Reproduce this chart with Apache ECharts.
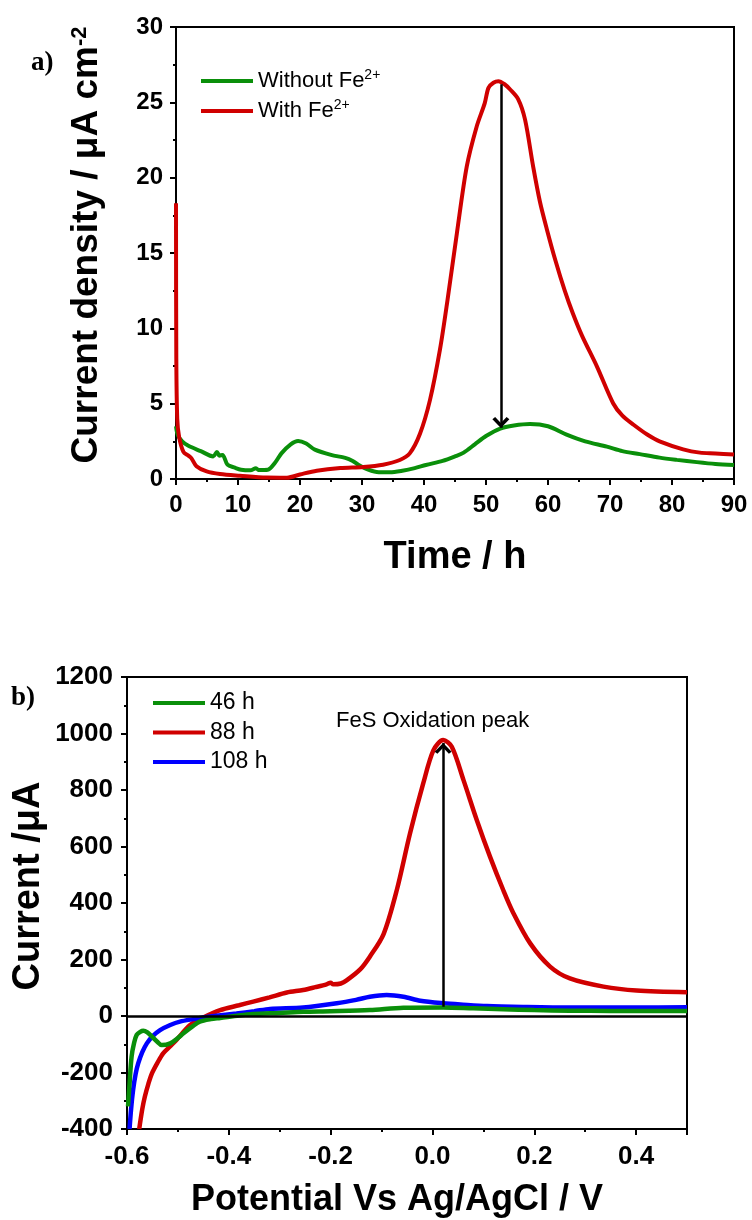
<!DOCTYPE html>
<html>
<head>
<meta charset="utf-8">
<script src="https://cdn.jsdelivr.net/npm/echarts@6/dist/echarts.min.js"></script>
<style>
html,body{margin:0;padding:0;background:#fff;}
#chart{width:752px;height:1220px;}
</style>
</head>
<body>
<div id="chart"></div>
<script>
// ---------- Panel a) data ----------
const timeGreen = [0, 0.3, 1, 2, 4, 6, 6.6, 7, 7.5, 8.3, 9.5, 10.5, 12, 12.9, 13.3, 14.8, 16, 17, 18.5, 19.7, 21, 22.4, 25, 27.3, 28.5, 29.4, 31, 32.7, 34.5, 36.5, 38.5, 40.3, 43, 45, 46.4, 48.2, 50, 52.3, 54.5, 57.1, 60, 63, 66, 69.5, 72, 74.8, 78, 80.8, 84, 87, 90];
const valGreen = [3.5, 2.9, 2.5, 2.2, 1.85, 1.5, 1.8, 1.55, 1.6, 0.95, 0.75, 0.62, 0.58, 0.72, 0.6, 0.62, 1.1, 1.7, 2.3, 2.52, 2.35, 1.95, 1.6, 1.4, 1.2, 0.95, 0.62, 0.45, 0.45, 0.55, 0.72, 0.93, 1.2, 1.5, 1.75, 2.3, 2.85, 3.35, 3.55, 3.65, 3.5, 2.95, 2.5, 2.15, 1.85, 1.65, 1.42, 1.27, 1.12, 1.0, 0.93];
const timeRed = [0, 0.05, 0.2, 0.5, 1.2, 2, 2.5, 3.3, 4.95, 7.1, 10.3, 14.6, 17.9, 20, 22.7, 26.5, 30.2, 33.4, 36.1, 37.7, 39.35, 40.97, 42.58, 43.8, 45.3, 46.9, 48.5, 49.8, 50.4, 51.2, 52, 53, 53.9, 55.2, 56.3, 57.6, 58.7, 59.8, 61.2, 62.7, 64, 65.5, 67.9, 70.5, 72, 73.8, 76, 78.1, 81.8, 84.5, 87, 90];
const valRed = [18.3, 8, 4, 2.8, 1.8, 1.55, 1.37, 0.85, 0.5, 0.33, 0.22, 0.1, 0.09, 0.3, 0.55, 0.73, 0.8, 0.95, 1.26, 1.7, 3.0, 5.25, 8.6, 11.9, 16.3, 20.75, 23.4, 24.95, 25.96, 26.3, 26.4, 26.2, 25.85, 25.2, 23.85, 20.75, 18.4, 16.6, 14.5, 12.5, 11.0, 9.5, 7.46, 5.03, 4.2, 3.6, 2.95, 2.48, 1.97, 1.75, 1.7, 1.62];
const arrowA = [52.4, 26.2, 3.4]; // x, from, to
const namesA = ['Without Fe2+', 'With Fe2+'];

// ---------- Panel b) data ----------
const potGreen = [-0.598, -0.595, -0.591, -0.586, -0.581, -0.574, -0.568, -0.56, -0.551, -0.54, -0.532, -0.515, -0.5, -0.489, -0.47, -0.457, -0.435, -0.417, -0.38, -0.352, -0.3, -0.254, -0.2, -0.123, -0.057, 0.021, 0.08, 0.139, 0.2, 0.27, 0.35, 0.42, 0.5];
const curGreen = [-320, -240, -144, -95, -67, -56, -52, -58, -73, -92, -103, -97, -78, -61, -35, -20, -11, -7, 2, 7, 11, 15, 17, 21, 29, 30, 27, 24, 21, 19, 18, 18, 18];
const potRed = [-0.576, -0.57, -0.565, -0.558, -0.551, -0.54, -0.529, -0.515, -0.502, -0.476, -0.45, -0.417, -0.38, -0.352, -0.32, -0.286, -0.254, -0.23, -0.208, -0.2, -0.195, -0.18, -0.168, -0.142, -0.123, -0.096, -0.07, -0.044, -0.018, 0.002, 0.021, 0.038, 0.061, 0.087, 0.113, 0.139, 0.159, 0.192, 0.231, 0.27, 0.336, 0.401, 0.5];
const curRed = [-400, -330, -286, -240, -203, -165, -132, -107, -83, -32, -5, 21, 38, 51, 66, 83, 92, 102, 112, 118, 112, 115, 127, 165, 210, 290, 446, 647, 824, 941, 977, 953, 835, 694, 564, 446, 364, 257, 175, 133, 104, 90, 84];
const potBlue = [-0.595, -0.592, -0.588, -0.583, -0.578, -0.57, -0.561, -0.55, -0.535, -0.515, -0.496, -0.47, -0.45, -0.42, -0.385, -0.35, -0.319, -0.254, -0.188, -0.15, -0.123, -0.09, -0.057, -0.024, 0.021, 0.06, 0.107, 0.18, 0.27, 0.4, 0.5];
const curBlue = [-400, -330, -262, -205, -168, -128, -97, -72, -50, -32, -20, -11, -5, 2, 9, 17, 25, 30, 45, 57, 68, 74, 68, 54, 45, 40, 35, 32, 30, 30, 31];
const arrowB = [0.021, 33, 966]; // x, from, to
const namesB = ['46 h', '88 h', '108 h'];

const zip = (xs, ys) => xs.map((x, i) => [x, ys[i]]);
const FONT = 'Liberation Sans, Arial, sans-serif';
const GREEN = '#0a8f0a', RED = '#d00000', BLUE = '#0000ff';
const chevron = 'path://M8,0 L8.01,0 L8.01,0.01 Z M8,10 L16,18.3 L13.4,20.3 L8,14.6 L2.6,20.3 L0,18.3 Z';

function axisCommon(labelSize, margin) {
  return {
    axisLine: {show: true, onZero: false, lineStyle: {color: '#000', width: 2}},
    axisTick: {show: true, inside: false, length: 6, lineStyle: {color: '#000', width: 2}},
    minorTick: {show: true, splitNumber: 2, length: 3, lineStyle: {color: '#000', width: 2}},
    splitLine: {show: false},
    minorSplitLine: {show: false},
    axisLabel: {fontSize: labelSize, fontWeight: 'bold', color: '#000', fontFamily: FONT, margin: margin,
      formatter: v => String(v)}
  };
}

const chart = echarts.init(document.getElementById('chart'), null, {renderer: 'canvas'});
const supFmt = n => n.indexOf('Fe2+') >= 0 ? '{a|' + n.replace('2+', '') + '}{s|2+}' : n;
const lineCommon = {type: 'line', showSymbol: false, smooth: 0.3};

const option = {
  animation: false,
  backgroundColor: '#fff',
  grid: [
    {left: 176, top: 27, width: 558, height: 452, show: true, borderColor: '#000', borderWidth: 2, backgroundColor: 'transparent'},
    {left: 127, top: 677, width: 560, height: 452, show: true, borderColor: '#000', borderWidth: 2, backgroundColor: 'transparent'}
  ],
  xAxis: [
    Object.assign({type: 'value', gridIndex: 0, min: 0, max: 90, interval: 10}, axisCommon(24, 14)),
    Object.assign({type: 'value', gridIndex: 1, min: -0.6, max: 0.5, interval: 0.2}, axisCommon(26, 15), {
      axisLabel: {fontSize: 26, fontWeight: 'bold', color: '#000', fontFamily: FONT, margin: 15,
        formatter: v => (Math.abs(v - 0.5) < 1e-6) ? '' : (Math.abs(v) < 1e-9 ? '0.0' : v.toFixed(1))}
    })
  ],
  yAxis: [
    Object.assign({type: 'value', gridIndex: 0, min: 0, max: 30, interval: 5}, axisCommon(24, 13)),
    Object.assign({type: 'value', gridIndex: 1, min: -400, max: 1200, interval: 200}, axisCommon(26, 14))
  ],
  legend: [
    {
      data: namesA, left: 201, top: 68, orient: 'vertical', padding: 0, itemGap: 6,
      icon: 'rect', itemWidth: 52, itemHeight: 4, selectedMode: false,
      formatter: supFmt,
      textStyle: {color: '#000', fontFamily: FONT, fontSize: 22,
        rich: {a: {fontSize: 22, fontFamily: FONT, color: '#000', lineHeight: 26},
               s: {fontSize: 14, fontFamily: FONT, color: '#000', lineHeight: 14, verticalAlign: 'top'}}}
    },
    {
      data: namesB, left: 153, top: 691, orient: 'vertical', padding: 0, itemGap: 5.5,
      icon: 'rect', itemWidth: 52, itemHeight: 4, selectedMode: false,
      textStyle: {color: '#000', fontFamily: FONT, fontSize: 23, lineHeight: 24}
    }
  ],
  series: [
    Object.assign({name: namesA[0], xAxisIndex: 0, yAxisIndex: 0, data: zip(timeGreen, valGreen),
     color: GREEN, lineStyle: {width: 4, color: GREEN}}, lineCommon),
    Object.assign({name: namesA[1], xAxisIndex: 0, yAxisIndex: 0, data: zip(timeRed, valRed),
     color: RED, lineStyle: {width: 4, color: RED},
     markLine: {silent: true, symbol: ['none', 'none'], label: {show: false},
       lineStyle: {color: '#000', width: 2.5, type: 'solid'},
       data: [[{coord: [arrowA[0], arrowA[1]], symbol: 'none'},
               {coord: [arrowA[0], arrowA[2]], symbol: chevron, symbolSize: [17, 21.5]}]]}}, lineCommon),
    Object.assign({name: namesB[0], xAxisIndex: 1, yAxisIndex: 1, data: zip(potGreen, curGreen),
     color: GREEN, lineStyle: {width: 4.5, color: GREEN}, z: 3}, lineCommon),
    Object.assign({name: namesB[1], xAxisIndex: 1, yAxisIndex: 1, data: zip(potRed, curRed),
     color: RED, lineStyle: {width: 4.5, color: RED}, z: 2,
     markLine: {silent: true, symbol: ['none', 'none'], label: {show: false},
       lineStyle: {color: '#000', width: 2.5, type: 'solid'},
       data: [[{coord: [arrowB[0], arrowB[1]], symbol: 'none'},
               {coord: [arrowB[0], arrowB[2]], symbol: chevron, symbolSize: [17, 21.5]}]]}}, lineCommon),
    Object.assign({name: namesB[2], xAxisIndex: 1, yAxisIndex: 1, data: zip(potBlue, curBlue),
     color: BLUE, lineStyle: {width: 4.5, color: BLUE}, z: 2,
     markLine: {silent: true, symbol: ['none', 'none'], label: {show: false},
       lineStyle: {color: '#000', width: 2.5, type: 'solid'},
       data: [{yAxis: 0}]}}, lineCommon)
  ],
  graphic: [
    {type: 'text', left: 31, top: 50, style: {text: 'a)', font: 'bold 27px "Liberation Serif", "Times New Roman", serif', fill: '#000'}},
    {type: 'text', left: 11, top: 685, style: {text: 'b)', font: 'bold 27px "Liberation Serif", "Times New Roman", serif', fill: '#000'}},
    {type: 'text', x: 87, y: 245, rotation: Math.PI / 2,
     style: {text: '{m|Current density / μA cm}{s|-2}', align: 'center', verticalAlign: 'middle',
       rich: {m: {fontSize: 37, fontWeight: 'bold', fontFamily: FONT, fill: '#000', lineHeight: 36},
              s: {fontSize: 22, fontWeight: 'bold', fontFamily: FONT, fill: '#000', lineHeight: 22, verticalAlign: 'top'}}}},
    {type: 'text', x: 455, y: 558,
     style: {text: 'Time / h', align: 'center', verticalAlign: 'middle', font: 'bold 38px ' + FONT, fill: '#000'}},
    {type: 'text', x: 29, y: 886, rotation: Math.PI / 2,
     style: {text: 'Current /μA', align: 'center', verticalAlign: 'middle', font: 'bold 38px ' + FONT, fill: '#000'}},
    {type: 'text', x: 397, y: 1200,
     style: {text: 'Potential Vs Ag/AgCl / V', align: 'center', verticalAlign: 'middle', font: 'bold 36px ' + FONT, fill: '#000'}},
    {type: 'text', x: 336, y: 721,
     style: {text: 'FeS Oxidation peak', align: 'left', verticalAlign: 'middle', font: '22px ' + FONT, fill: '#000'}}
  ]
};
chart.setOption(option);
</script>
</body>
</html>
